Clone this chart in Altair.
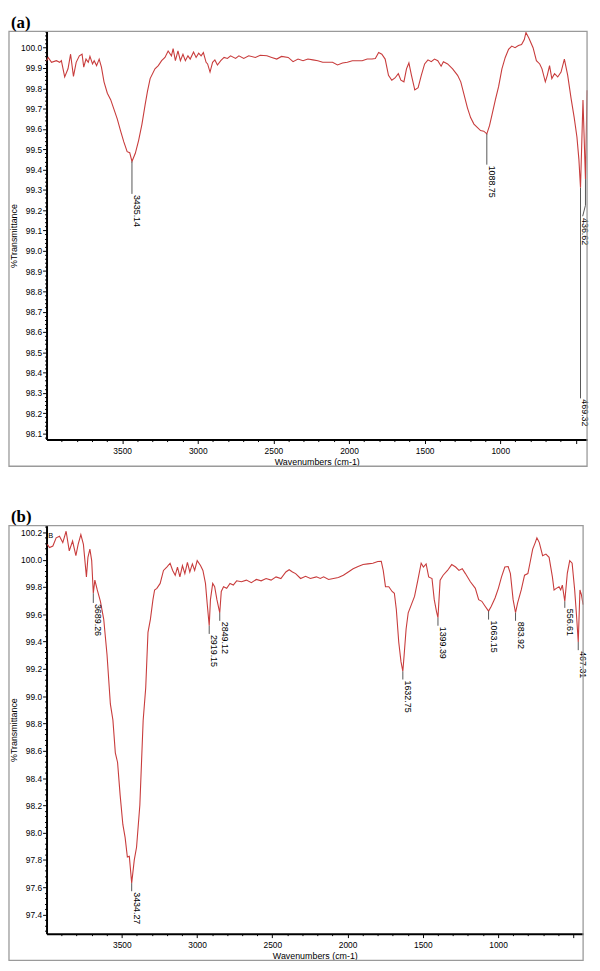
import altair as alt
import pandas as pd

# ---------------- Panel (a) spectrum ----------------
a_wn = [4000, 3989, 3967, 3935, 3913, 3902, 3880, 3858, 3841, 3822,
        3804, 3783, 3765, 3754, 3739, 3724, 3713, 3696, 3685, 3669,
        3652, 3637, 3620, 3598, 3576, 3554, 3532, 3511, 3489, 3467,
        3450, 3435.14, 3413, 3391, 3369, 3348, 3333, 3315, 3283, 3261,
        3239, 3217, 3196, 3174, 3163, 3148, 3131, 3115, 3098, 3082,
        3065, 3050, 3028, 3011, 2994, 2978, 2963, 2945, 2935, 2919,
        2902, 2887, 2870, 2848, 2826, 2804, 2783, 2750, 2728, 2696,
        2663, 2619, 2587, 2543, 2511, 2478, 2446, 2402, 2370, 2337,
        2304, 2272, 2239, 2206, 2174, 2141, 2109, 2076, 2043, 2011,
        1978, 1946, 1913, 1880, 1848, 1826, 1804, 1783, 1761, 1739,
        1717, 1696, 1674, 1657, 1637, 1620, 1604, 1587, 1565, 1543,
        1522, 1500, 1478, 1456, 1435, 1413, 1391, 1376, 1348, 1315,
        1282, 1261, 1239, 1217, 1196, 1174, 1152, 1130, 1109, 1088.75,
        1071, 1054, 1032, 1011, 989, 967, 945, 924, 902, 880,
        859, 841, 830, 811, 783, 761, 739, 724, 702, 689,
        674, 659, 641, 620, 598, 576, 554, 532, 511, 493,
        480, 469.32, 453, 436.62, 426]
a_t = [99.936, 99.952, 99.928, 99.936, 99.928, 99.936, 99.856, 99.896, 99.968, 99.859,
       99.928, 99.960, 99.968, 99.904, 99.944, 99.928, 99.957, 99.920, 99.936, 99.912,
       99.944, 99.904, 99.832, 99.776, 99.744, 99.696, 99.648, 99.592, 99.536, 99.488,
       99.483, 99.440, 99.480, 99.544, 99.624, 99.720, 99.784, 99.848, 99.896, 99.912,
       99.936, 99.952, 99.984, 99.960, 99.995, 99.936, 99.984, 99.936, 99.968, 99.936,
       99.960, 99.944, 99.979, 99.952, 99.973, 99.960, 99.976, 99.928, 99.920, 99.880,
       99.928, 99.940, 99.915, 99.936, 99.952, 99.947, 99.960, 99.947, 99.960, 99.947,
       99.960, 99.952, 99.963, 99.960, 99.952, 99.944, 99.957, 99.952, 99.931, 99.944,
       99.936, 99.944, 99.940, 99.936, 99.928, 99.928, 99.928, 99.915, 99.925, 99.928,
       99.936, 99.936, 99.936, 99.944, 99.944, 99.947, 99.976, 99.968, 99.944, 99.864,
       99.840, 99.851, 99.872, 99.840, 99.832, 99.896, 99.925, 99.864, 99.792, 99.803,
       99.864, 99.920, 99.940, 99.931, 99.944, 99.936, 99.909, 99.931, 99.920, 99.896,
       99.864, 99.832, 99.768, 99.704, 99.656, 99.624, 99.608, 99.592, 99.589, 99.576,
       99.616, 99.672, 99.744, 99.808, 99.896, 99.952, 99.992, 100.008, 100.000, 100.011,
       100.016, 100.040, 100.075, 100.048, 100.000, 99.936, 99.920, 99.896, 99.832, 99.864,
       99.912, 99.848, 99.872, 99.856, 99.880, 99.944, 99.864, 99.752, 99.656, 99.560,
       99.450, 99.310, 99.742, 99.353, 99.790]

a_peak_wn = [3435.14, 1088.75, 469.32, 436.62]
a_peak_t = [99.440, 99.576, 99.310, 99.353]
a_peak_end = [99.280, 99.424, 98.273, 99.224]
a_label_wn = [3435.14, 1088.75, 469.32, 469.32]
a_label_t = [99.280, 99.424, 98.273, 99.166]
a_labels = ["3435.14", "1088.75", "469.32", "436.62"]
# bent leader of the 436.62 label
a_bend_wn = [436.62]
a_bend_wn2 = [455.0]
a_bend_t = [99.224]
a_bend_t2 = [99.170]

# ---------------- Panel (b) spectrum ----------------
b_wn = [3995, 3980, 3958, 3936, 3914, 3892, 3870, 3849, 3827, 3805,
        3790, 3772, 3755, 3735, 3725, 3712, 3700, 3689.26, 3679, 3663,
        3642, 3620, 3598, 3576, 3559, 3543, 3528, 3511, 3493, 3478,
        3463, 3450, 3434.27, 3417, 3402, 3380, 3358, 3341, 3326, 3310,
        3293, 3282, 3267, 3245, 3223, 3201, 3179, 3162, 3145, 3130,
        3114, 3097, 3081, 3064, 3048, 3031, 3016, 2999, 2977, 2961,
        2944, 2933, 2919.15, 2911, 2896, 2883, 2868, 2849.12, 2839, 2824,
        2803, 2781, 2759, 2737, 2705, 2672, 2639, 2606, 2574, 2541,
        2508, 2475, 2443, 2410, 2388, 2366, 2345, 2312, 2279, 2247,
        2207, 2181, 2159, 2126, 2094, 2061, 2028, 1995, 1963, 1930,
        1897, 1865, 1832, 1799, 1776, 1763, 1748, 1726, 1704, 1689,
        1676, 1660, 1645, 1632.75, 1624, 1611, 1597, 1576, 1555, 1533,
        1511, 1496, 1478, 1461, 1439, 1424, 1409, 1399.39, 1385, 1365,
        1336, 1308, 1282, 1260, 1238, 1217, 1184, 1151, 1129, 1108,
        1086, 1063.15, 1045, 1020, 998, 977, 955, 933, 918, 900,
        883.92, 870, 846, 824, 802, 787, 770, 753, 742, 726,
        704, 682, 661, 639, 628, 613, 595, 584, 573, 556.61,
        540, 524, 508, 491, 477, 467.31, 456, 446, 435]
b_t = [100.112, 100.089, 100.100, 100.160, 100.172, 100.125, 100.208, 100.064, 100.136, 100.029,
       100.112, 100.184, 100.112, 99.874, 100.017, 100.077, 99.993, 99.754, 99.850, 99.778,
       99.695, 99.563, 99.301, 98.943, 98.824, 98.585, 98.514, 98.275, 98.060, 97.965,
       97.822, 97.827, 97.630, 97.800, 97.893, 98.203, 98.824, 99.062, 99.468, 99.563,
       99.707, 99.778, 99.790, 99.826, 99.921, 99.946, 99.974, 99.921, 99.885, 99.946,
       99.874, 99.957, 99.898, 99.981, 99.910, 99.969, 99.921, 99.993, 99.957, 99.921,
       99.826, 99.683, 99.516, 99.707, 99.826, 99.802, 99.707, 99.611, 99.767, 99.802,
       99.790, 99.826, 99.814, 99.845, 99.838, 99.850, 99.831, 99.855, 99.845, 99.862,
       99.850, 99.874, 99.862, 99.910, 99.926, 99.910, 99.898, 99.862, 99.878, 99.862,
       99.874, 99.862, 99.874, 99.855, 99.862, 99.869, 99.886, 99.910, 99.933, 99.950,
       99.964, 99.969, 99.974, 99.986, 99.988, 99.921, 99.802, 99.802, 99.767, 99.754,
       99.635, 99.397, 99.253, 99.182, 99.301, 99.492, 99.611, 99.671, 99.731, 99.850,
       99.974, 99.946, 99.969, 99.874, 99.862, 99.707, 99.620, 99.575, 99.850, 99.886,
       99.921, 99.964, 99.946, 99.921, 99.933, 99.898, 99.838, 99.790, 99.707, 99.695,
       99.659, 99.623, 99.659, 99.719, 99.790, 99.874, 99.946, 99.950, 99.898, 99.707,
       99.611, 99.683, 99.778, 99.886, 99.898, 99.981, 100.077, 100.125, 100.160, 100.125,
       100.029, 100.041, 100.017, 99.874, 99.778, 99.790, 99.802, 99.778, 99.814, 99.695,
       99.900, 99.993, 99.974, 99.778, 99.563, 99.397, 99.778, 99.742, 99.671]

b_peak_wn = [3689.26, 3434.27, 2919.15, 2849.12, 1632.75, 1399.39, 1063.15, 883.92, 556.61, 467.31]
b_peak_t = [99.754, 97.630, 99.516, 99.611, 99.182, 99.575, 99.623, 99.611, 99.695, 99.397]
b_peak_end = [99.683, 97.571, 99.456, 99.552, 99.122, 99.516, 99.561, 99.552, 99.647, 99.337]
b_labels = ["3689.26", "3434.27", "2919.15", "2849.12", "1632.75", "1399.39",
            "1063.15", "883.92", "556.61", "467.31"]
b_tag_wn = [3988]
b_tag_t = [100.17]
b_tag = ["B"]

panel_letters = ["(a)", "(b)"]

# ---------------- axis tick lists ----------------
x_ticks = [3900, 3800, 3700, 3600, 3500, 3400, 3300, 3200, 3100, 3000,
           2900, 2800, 2700, 2600, 2500, 2400, 2300, 2200, 2100, 2000,
           1900, 1800, 1700, 1600, 1500, 1400, 1300, 1200, 1100, 1000,
           900, 800, 700, 600, 500]
a_yticks = [round(98.08 + 0.02 * i, 2) for i in range(101)]
b_yticks = [round(97.28 + 0.04 * i, 2) for i in range(75)]

FONT = "Liberation Sans, Arial, Helvetica, sans-serif"
LINE_COLOR = "#c83c3c"
FRAME_COLOR = "#9a9a9a"


def panel(letter, wn, t, pk_wn, pk_t, pk_end, lab_wn, lab_t, labels,
          xdom, ydom, yticks, ymul, W, H, bend=None, tag=None):
    xs = alt.Scale(domain=xdom, nice=False, zero=False)
    ys = alt.Scale(domain=ydom, nice=False, zero=False)
    xmajor = "datum.value % 500 == 0"
    ymajor = f"abs(datum.value*{ymul} - round(datum.value*{ymul})) < 0.001"
    xaxis = alt.Axis(
        values=x_ticks,
        labelExpr="(datum.value % 500 == 0 && datum.value >= 1000 && datum.value <= 3500) ? datum.label : ''",
        format="d", grid=False, labelOverlap=False, labelFlush=False,
        domainColor="black", domainWidth=2, tickColor="black", tickWidth=1,
        tickSize={"condition": {"test": xmajor, "value": 4}, "value": 2},
        labelFont=FONT, labelFontSize=8.5, labelColor="black", labelPadding=3,
        title="Wavenumbers (cm-1)", titleFont=FONT, titleFontSize=9,
        titleFontWeight="normal", titleColor="black", titlePadding=3)
    yaxis = alt.Axis(
        values=yticks,
        labelExpr=f"{ymajor} ? format(datum.value, '.1f') : ''",
        grid=False, labelOverlap=False, labelFlush=False,
        domainColor="black", domainWidth=2, tickColor="black", tickWidth=1,
        tickSize={"condition": {"test": ymajor, "value": 4}, "value": 2},
        labelFont=FONT, labelFontSize=8.5, labelColor="black", labelPadding=1,
        title="%Transmittance", titleFont=FONT, titleFontSize=9,
        titleFontWeight="normal", titleColor="black",
        titleX=-33, titleY=H / 2, titleAngle=270, titleBaseline="middle")

    X = alt.X("wn:Q", scale=xs, axis=xaxis)
    Y = alt.Y("t:Q", scale=ys, axis=yaxis)

    df = pd.DataFrame({"wn": wn, "t": t})
    line = alt.Chart(df).mark_line(color=LINE_COLOR, strokeWidth=1.1).encode(
        x=X, y=Y, order=alt.Order("wn:Q", sort="descending"))

    pk = pd.DataFrame({"wn": pk_wn, "t": pk_t, "t2": pk_end})
    rules = alt.Chart(pk).mark_rule(color="#555555", strokeWidth=1).encode(
        x=X, y=Y, y2="t2:Q")

    lb = pd.DataFrame({"wn": lab_wn, "t": lab_t, "label": labels})
    texts = alt.Chart(lb).mark_text(
        angle=90, align="left", baseline="bottom", dx=1,
        font=FONT, fontSize=9, color="black").encode(
        x=X, y=Y, text="label:N")

    frame = alt.Chart(pd.DataFrame({"k": [0]})).mark_rect(
        fillOpacity=0, stroke=FRAME_COLOR, strokeWidth=1.3).encode(
        x=alt.value(-38), x2=alt.value(W), y=alt.value(0), y2=alt.value(H + 27))

    letter_mark = alt.Chart(pd.DataFrame({"letter": [letter]})).mark_text(
        align="left", baseline="alphabetic", font="Liberation Serif",
        fontSize=17, fontWeight="bold", color="black").encode(
        x=alt.value(-36), y=alt.value(-4), text="letter:N")

    layers = [line, rules, texts]
    if bend is not None:
        bd = pd.DataFrame({"wn": bend[0], "wn2": bend[1], "t": bend[2], "t2": bend[3]})
        layers.append(alt.Chart(bd).mark_rule(color="#555555", strokeWidth=1).encode(
            x=X, x2="wn2:Q", y=Y, y2="t2:Q"))
    if tag is not None:
        tg = pd.DataFrame({"wn": tag[0], "t": tag[1], "label": tag[2]})
        layers.append(alt.Chart(tg).mark_text(
            align="left", baseline="middle", font=FONT, fontSize=7.5, color="black").encode(
            x=X, y=Y, text="label:N"))
    layers += [frame, letter_mark]

    return alt.layer(*layers).properties(width=W, height=H)


pa = panel(panel_letters[0], a_wn, a_t, a_peak_wn, a_peak_t, a_peak_end, a_label_wn, a_label_t, a_labels,
           [4000, 426], [98.07, 100.08], a_yticks, 10, 547, 413,
           bend=(a_bend_wn, a_bend_wn2, a_bend_t, a_bend_t2))
pb = panel(panel_letters[1], b_wn, b_t, b_peak_wn, b_peak_t, b_peak_end, b_peak_wn, b_peak_end, b_labels,
           [4000, 435], [97.26, 100.25], b_yticks, 5, 543, 413,
           tag=(b_tag_wn, b_tag_t, b_tag))

chart = alt.vconcat(pa, pb, spacing=41).properties(
    padding={"left": 0, "top": 0, "right": 2, "bottom": 0},
    background="white",
).configure_view(stroke=None)

chart.save("out.html", embed_options={"renderer": "svg", "actions": False})
